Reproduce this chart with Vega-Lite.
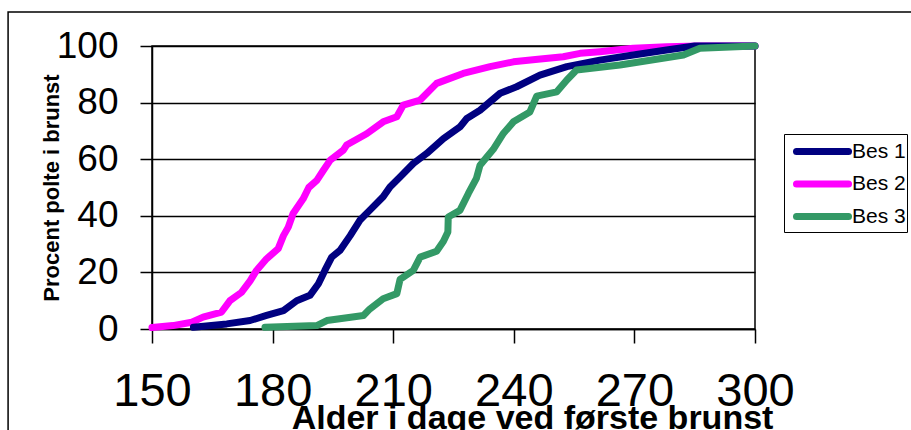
{
  "$schema": "https://vega.github.io/schema/vega-lite/v6.json",
  "width": 603,
  "height": 283,
  "autosize": "none",
  "padding": {"left": 152, "top": 46, "right": 156, "bottom": 101},
  "background": "white",
  "config": {
    "view": {"stroke": "black", "strokeWidth": 1.5},
    "font": "Liberation Sans"
  },
  "layer": [
    {
      "data": {"values": [{}]},
      "mark": {"type": "rect", "filled": false, "stroke": "black", "strokeWidth": 1.5, "clip": false},
      "encoding": {
        "x": {"datum": 114.2, "type": "quantitative", "scale": {"domain": [150, 300], "nice": false, "zero": false}},
        "x2": {"datum": 400},
        "y": {"datum": 112, "type": "quantitative", "scale": {"domain": [0, 100], "nice": false}},
        "y2": {"datum": -50}
      }
    },
    {
      "data": {
        "values": [
          {"serie": "Bes 2", "dag": 150, "pct": 0.5},
          {"serie": "Bes 2", "dag": 155.2, "pct": 1.2},
          {"serie": "Bes 2", "dag": 159.9, "pct": 2.4},
          {"serie": "Bes 2", "dag": 162.7, "pct": 4.2},
          {"serie": "Bes 2", "dag": 167.3, "pct": 6},
          {"serie": "Bes 2", "dag": 169.4, "pct": 10},
          {"serie": "Bes 2", "dag": 172.3, "pct": 13},
          {"serie": "Bes 2", "dag": 174.4, "pct": 17},
          {"serie": "Bes 2", "dag": 176, "pct": 20.7},
          {"serie": "Bes 2", "dag": 178.5, "pct": 24.8},
          {"serie": "Bes 2", "dag": 181.4, "pct": 28.4},
          {"serie": "Bes 2", "dag": 182.7, "pct": 33},
          {"serie": "Bes 2", "dag": 183.9, "pct": 36},
          {"serie": "Bes 2", "dag": 185.1, "pct": 40.8},
          {"serie": "Bes 2", "dag": 187.6, "pct": 46},
          {"serie": "Bes 2", "dag": 189, "pct": 50},
          {"serie": "Bes 2", "dag": 191, "pct": 52.5},
          {"serie": "Bes 2", "dag": 192.6, "pct": 56},
          {"serie": "Bes 2", "dag": 194.3, "pct": 59.6},
          {"serie": "Bes 2", "dag": 197.6, "pct": 63.2},
          {"serie": "Bes 2", "dag": 198.4, "pct": 65},
          {"serie": "Bes 2", "dag": 203.4, "pct": 69},
          {"serie": "Bes 2", "dag": 207.5, "pct": 73.2},
          {"serie": "Bes 2", "dag": 210.9, "pct": 75},
          {"serie": "Bes 2", "dag": 212.5, "pct": 79.1},
          {"serie": "Bes 2", "dag": 216.7, "pct": 80.9},
          {"serie": "Bes 2", "dag": 220.8, "pct": 86.8},
          {"serie": "Bes 2", "dag": 227.4, "pct": 90.3},
          {"serie": "Bes 2", "dag": 234.1, "pct": 92.7},
          {"serie": "Bes 2", "dag": 239.9, "pct": 94.4},
          {"serie": "Bes 2", "dag": 246, "pct": 95.3},
          {"serie": "Bes 2", "dag": 252.3, "pct": 96.2},
          {"serie": "Bes 2", "dag": 256.5, "pct": 97.4},
          {"serie": "Bes 2", "dag": 261.4, "pct": 98},
          {"serie": "Bes 2", "dag": 269.7, "pct": 99.2},
          {"serie": "Bes 2", "dag": 278, "pct": 99.7},
          {"serie": "Bes 2", "dag": 286, "pct": 100},
          {"serie": "Bes 2", "dag": 300, "pct": 100},
          {"serie": "Bes 1", "dag": 160.3, "pct": 0.6},
          {"serie": "Bes 1", "dag": 168.6, "pct": 1.8},
          {"serie": "Bes 1", "dag": 174.4, "pct": 3},
          {"serie": "Bes 1", "dag": 178.5, "pct": 4.8},
          {"serie": "Bes 1", "dag": 182.7, "pct": 6.5},
          {"serie": "Bes 1", "dag": 186, "pct": 10},
          {"serie": "Bes 1", "dag": 189.3, "pct": 11.9},
          {"serie": "Bes 1", "dag": 191.4, "pct": 16},
          {"serie": "Bes 1", "dag": 193, "pct": 20.7},
          {"serie": "Bes 1", "dag": 194.7, "pct": 25.4},
          {"serie": "Bes 1", "dag": 196.8, "pct": 27.8},
          {"serie": "Bes 1", "dag": 199.3, "pct": 33},
          {"serie": "Bes 1", "dag": 201.7, "pct": 38.4},
          {"serie": "Bes 1", "dag": 204.2, "pct": 42},
          {"serie": "Bes 1", "dag": 207.5, "pct": 46.7},
          {"serie": "Bes 1", "dag": 209.2, "pct": 50.2},
          {"serie": "Bes 1", "dag": 211.7, "pct": 53.7},
          {"serie": "Bes 1", "dag": 215, "pct": 58.5},
          {"serie": "Bes 1", "dag": 218.3, "pct": 62},
          {"serie": "Bes 1", "dag": 222.5, "pct": 67.3},
          {"serie": "Bes 1", "dag": 226.6, "pct": 71.4},
          {"serie": "Bes 1", "dag": 228.3, "pct": 74.4},
          {"serie": "Bes 1", "dag": 231.6, "pct": 77.3},
          {"serie": "Bes 1", "dag": 236.6, "pct": 83.3},
          {"serie": "Bes 1", "dag": 240.7, "pct": 85.6},
          {"serie": "Bes 1", "dag": 246.5, "pct": 89.7},
          {"serie": "Bes 1", "dag": 253.2, "pct": 92.7},
          {"serie": "Bes 1", "dag": 261.4, "pct": 95},
          {"serie": "Bes 1", "dag": 269.7, "pct": 96.8},
          {"serie": "Bes 1", "dag": 278, "pct": 98.6},
          {"serie": "Bes 1", "dag": 285, "pct": 100},
          {"serie": "Bes 1", "dag": 300, "pct": 100},
          {"serie": "Bes 3", "dag": 178.1, "pct": 0.6},
          {"serie": "Bes 3", "dag": 191, "pct": 1.2},
          {"serie": "Bes 3", "dag": 193.5, "pct": 3},
          {"serie": "Bes 3", "dag": 202.6, "pct": 4.8},
          {"serie": "Bes 3", "dag": 204.2, "pct": 7.1},
          {"serie": "Bes 3", "dag": 207.5, "pct": 10.7},
          {"serie": "Bes 3", "dag": 210.9, "pct": 12.5},
          {"serie": "Bes 3", "dag": 211.7, "pct": 17.5},
          {"serie": "Bes 3", "dag": 215, "pct": 20.7},
          {"serie": "Bes 3", "dag": 216.7, "pct": 25.4},
          {"serie": "Bes 3", "dag": 220.8, "pct": 27.5},
          {"serie": "Bes 3", "dag": 222.5, "pct": 31},
          {"serie": "Bes 3", "dag": 223.6, "pct": 34.3},
          {"serie": "Bes 3", "dag": 223.7, "pct": 39.6},
          {"serie": "Bes 3", "dag": 226.6, "pct": 41.9},
          {"serie": "Bes 3", "dag": 228.7, "pct": 47.9},
          {"serie": "Bes 3", "dag": 230.7, "pct": 53.2},
          {"serie": "Bes 3", "dag": 231.6, "pct": 57.9},
          {"serie": "Bes 3", "dag": 234.9, "pct": 63.5},
          {"serie": "Bes 3", "dag": 237.4, "pct": 69.1},
          {"serie": "Bes 3", "dag": 239.9, "pct": 73.2},
          {"serie": "Bes 3", "dag": 244, "pct": 76.7},
          {"serie": "Bes 3", "dag": 245.7, "pct": 82.3},
          {"serie": "Bes 3", "dag": 250.7, "pct": 83.8},
          {"serie": "Bes 3", "dag": 253.2, "pct": 88},
          {"serie": "Bes 3", "dag": 255.6, "pct": 91.5},
          {"serie": "Bes 3", "dag": 266.4, "pct": 93.3},
          {"serie": "Bes 3", "dag": 282.2, "pct": 96.8},
          {"serie": "Bes 3", "dag": 286.3, "pct": 99.2},
          {"serie": "Bes 3", "dag": 300, "pct": 100}
        ]
      },
      "mark": {"type": "line", "strokeWidth": 7, "strokeCap": "round", "strokeJoin": "round"},
      "encoding": {
        "x": {
          "field": "dag",
          "type": "quantitative",
          "scale": {"domain": [150, 300], "nice": false, "zero": false},
          "axis": {
            "values": [150, 180, 210, 240, 270, 300],
            "grid": false,
            "tickSize": 14,
            "tickColor": "black",
            "tickWidth": 1.5,
            "domainColor": "black",
            "domainWidth": 1.5,
            "labelFontSize": 47,
            "labelColor": "black",
            "labelPadding": 62,
            "labelBaseline": "alphabetic",
            "labelFlush": false,
            "labelOverlap": false,
            "title": "Alder i dage ved første brunst",
            "titleFontSize": 34,
            "titleFontWeight": "bold",
            "titleColor": "black",
            "titleX": 380,
            "titleY": 99,
            "titleAlign": "center",
            "titleBaseline": "alphabetic"
          }
        },
        "y": {
          "field": "pct",
          "type": "quantitative",
          "scale": {"domain": [0, 100], "nice": false},
          "axis": {
            "values": [0, 20, 40, 60, 80, 100],
            "grid": true,
            "gridColor": "black",
            "gridWidth": 1.5,
            "gridOpacity": 1,
            "tickSize": 12,
            "tickColor": "black",
            "tickWidth": 1.5,
            "domainColor": "black",
            "domainWidth": 1.5,
            "labelFontSize": 37,
            "labelColor": "black",
            "labelPadding": 22,
            "labelFlush": false,
            "labelOverlap": false,
            "title": "Procent polte i brunst",
            "titleFontSize": 22,
            "titleFontWeight": "bold",
            "titleColor": "black",
            "titleX": -94,
            "titleY": 141.5,
            "titleAngle": -90,
            "titleAlign": "center",
            "titleBaseline": "alphabetic"
          }
        },
        "color": {
          "field": "serie",
          "type": "nominal",
          "scale": {"domain": ["Bes 1", "Bes 2", "Bes 3"], "range": ["#000080", "#FF00FF", "#339966"]},
          "legend": {
            "orient": "none",
            "legendX": 632,
            "legendY": 88,
            "title": null,
            "strokeColor": "black",
            "fillColor": "white",
            "padding": 1,
            "symbolType": "M-2,0H2",
            "symbolSize": 676,
            "symbolStrokeWidth": 7,
            "symbolOffset": 21,
            "labelFontSize": 21,
            "labelColor": "black",
            "labelOffset": 13,
            "rowPadding": 1.5,
            "labelFont": "Liberation Sans",
            "encode": {"symbols": {"update": {"strokeCap": {"value": "round"}}}}
          }
        }
      }
    }
  ]
}
